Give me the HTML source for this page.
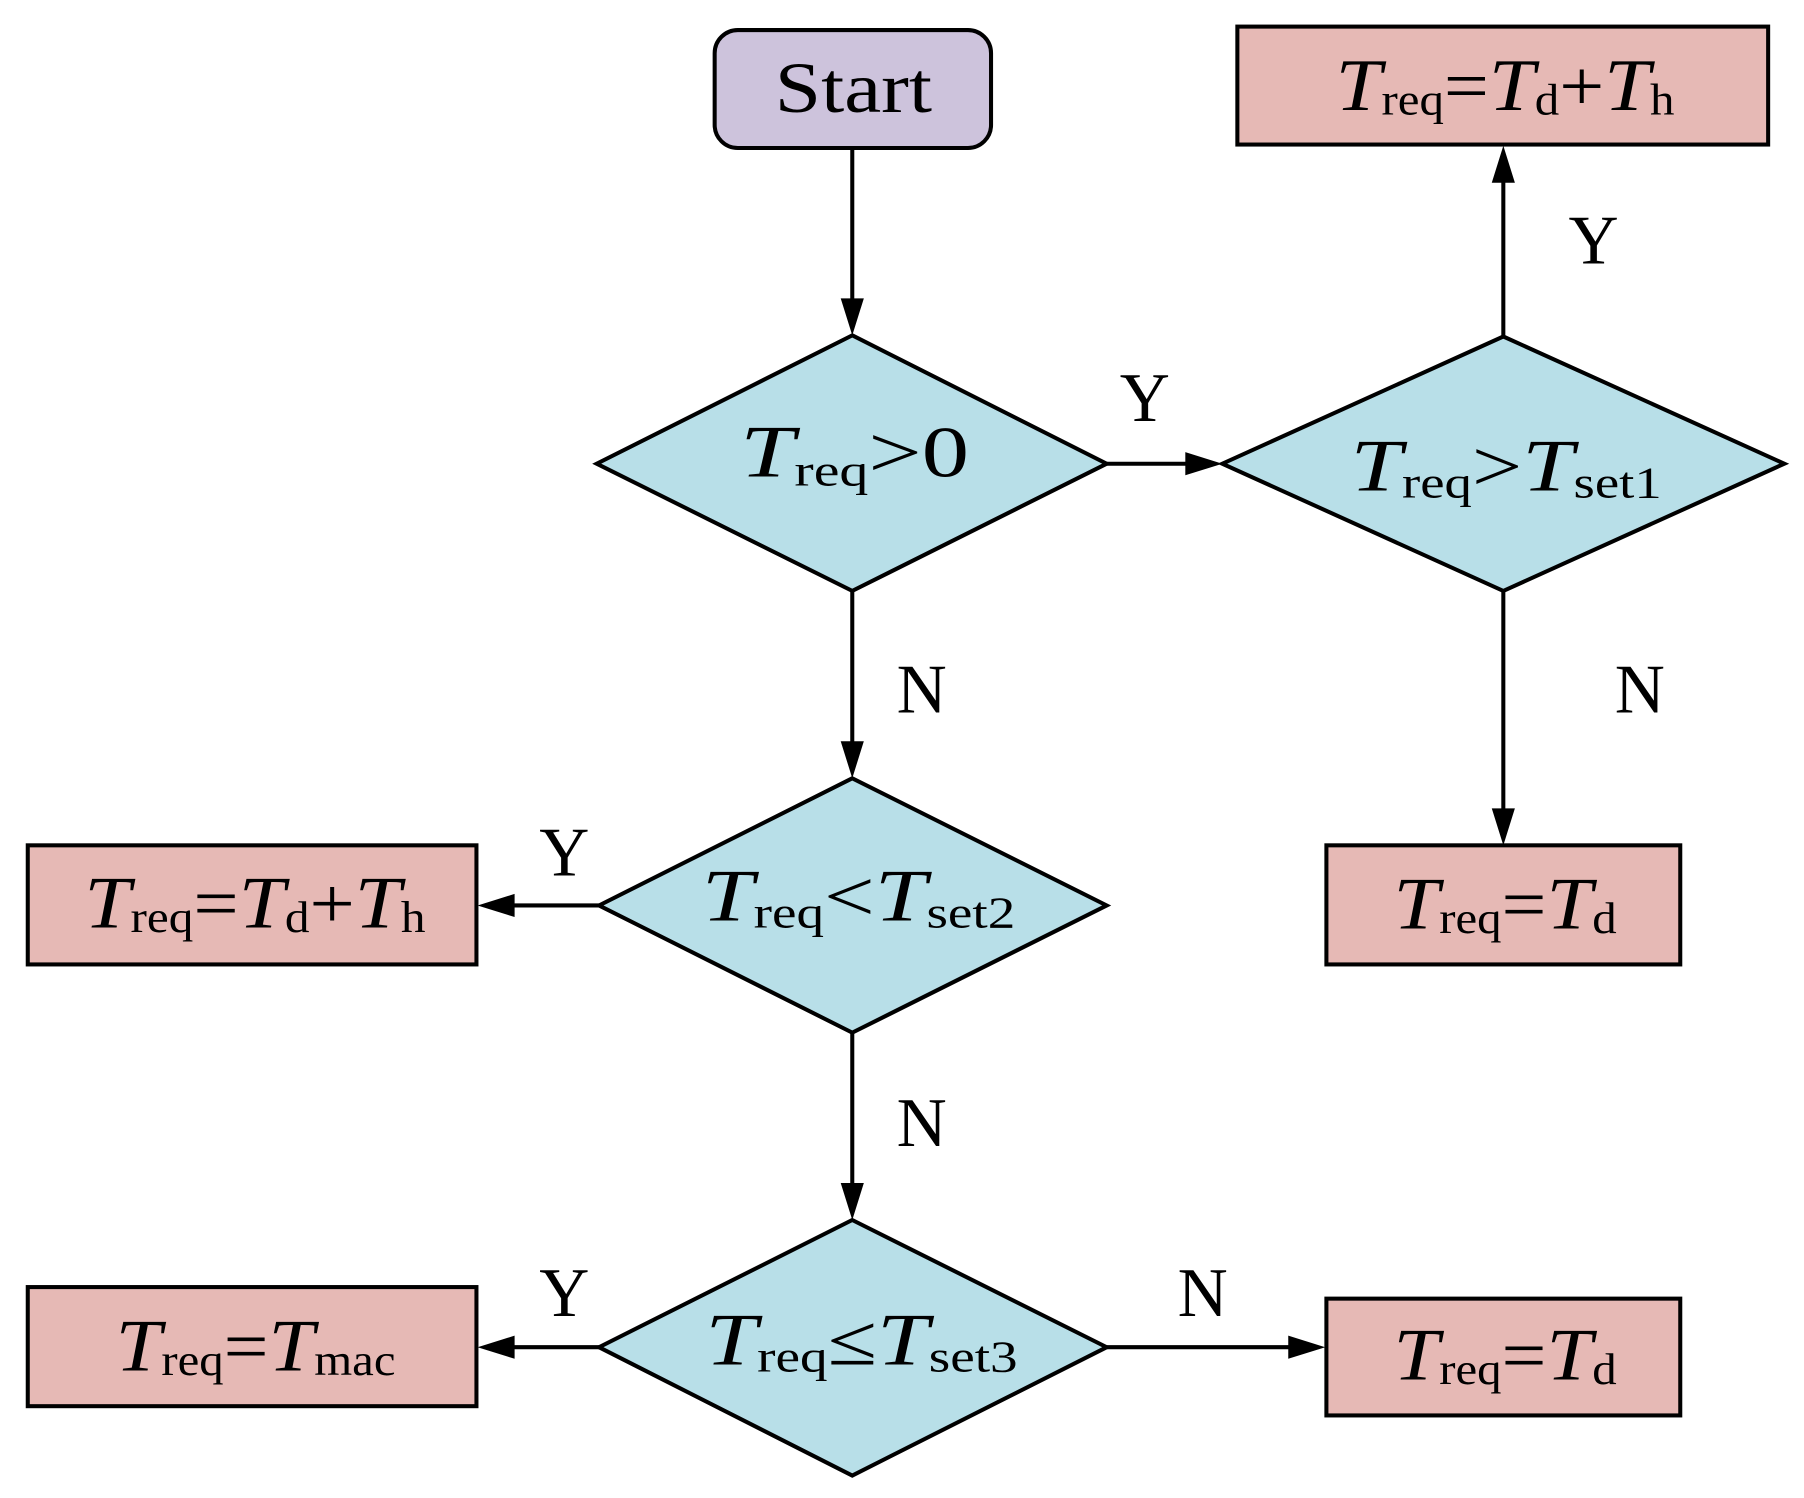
<!DOCTYPE html>
<html><head><meta charset="utf-8"><style>
html,body{margin:0;padding:0;background:#fff;}
svg{display:block;}
text{font-family:"Liberation Serif",serif;fill:#000;}
.T{font-style:italic;font-size:64px;}
.s{font-size:38px;}
.m{font-size:62px;}
.yn{font-size:60px;}
</style></head><body>
<svg width="1804" height="1498" viewBox="0 0 1560 1295.4" xmlns="http://www.w3.org/2000/svg">
<defs>
<marker id="a" markerWidth="10" markerHeight="10" refX="9" refY="5" orient="auto" markerUnits="userSpaceOnUse" viewBox="0 0 10 10">
</marker>
</defs>
<g stroke="#000" stroke-width="3.5" fill="none">
<line x1="737" y1="128" x2="737" y2="262"/>
<line x1="957" y1="401" x2="1030" y2="401"/>
<line x1="1300" y1="291" x2="1300" y2="154"/>
<line x1="1300" y1="511" x2="1300" y2="704"/>
<line x1="737" y1="511" x2="737" y2="646"/>
<line x1="518" y1="783" x2="440" y2="783"/>
<line x1="737" y1="893" x2="737" y2="1028"/>
<line x1="518" y1="1165" x2="440" y2="1165"/>
<line x1="957" y1="1165" x2="1118" y2="1165"/>
</g>
<g fill="#000">
<polygon points="737,290 727,258 747,258"/>
<polygon points="1057,401 1025,391 1025,411"/>
<polygon points="1300,126 1290,158 1310,158"/>
<polygon points="1300,731 1290,699 1310,699"/>
<polygon points="737,673 727,641 747,641"/>
<polygon points="413,783 445,773 445,793"/>
<polygon points="737,1055 727,1023 747,1023"/>
<polygon points="413,1165 445,1155 445,1175"/>
<polygon points="1146,1165 1114,1155 1114,1175"/>
</g>
<g stroke="#000" stroke-width="3.5">
<rect x="618" y="26" width="239" height="102" rx="20" fill="#cdc3dc"/>
<polygon points="737,290 957,401 737,511 516,401" fill="#b8dfe8"/>
<polygon points="1300,291 1543,401 1300,511 1057,401" fill="#b8dfe8"/>
<polygon points="737,673 957,783 737,893 518,783" fill="#b8dfe8"/>
<polygon points="737,1055 957,1165 737,1276 518,1165" fill="#b8dfe8"/>
<rect x="1070" y="23" width="459" height="102" fill="#e6b9b5"/>
<rect x="1147" y="731" width="306" height="103" fill="#e6b9b5"/>
<rect x="24" y="731" width="388" height="103" fill="#e6b9b5"/>
<rect x="24" y="1113" width="388" height="103" fill="#e6b9b5"/>
<rect x="1147" y="1123" width="306" height="101" fill="#e6b9b5"/>
</g>
<text x="670" y="97" class="m" textLength="136" lengthAdjust="spacingAndGlyphs">Start</text>

<text x="640" y="412" textLength="198" lengthAdjust="spacingAndGlyphs"><tspan class="T">T</tspan><tspan class="s" dy="8">req</tspan><tspan class="m" dy="-8">&gt;0</tspan></text>
<text x="1168" y="424" textLength="269" lengthAdjust="spacingAndGlyphs"><tspan class="T">T</tspan><tspan class="s" dy="6">req</tspan><tspan class="m" dy="-6">&gt;</tspan><tspan class="T">T</tspan><tspan class="s" dy="6">set1</tspan></text>
<text x="607" y="796" textLength="271" lengthAdjust="spacingAndGlyphs"><tspan class="T">T</tspan><tspan class="s" dy="6">req</tspan><tspan class="m" dy="-6">&lt;</tspan><tspan class="T">T</tspan><tspan class="s" dy="6">set2</tspan></text>
<text x="610" y="1180" textLength="270" lengthAdjust="spacingAndGlyphs"><tspan class="T">T</tspan><tspan class="s" dy="6">req</tspan><tspan class="m" dy="-6">≤</tspan><tspan class="T">T</tspan><tspan class="s" dy="6">set3</tspan></text>

<text x="1155" y="95" textLength="293" lengthAdjust="spacingAndGlyphs"><tspan class="T">T</tspan><tspan class="s" dy="4">req</tspan><tspan class="m" dy="-4">=</tspan><tspan class="T">T</tspan><tspan class="s" dy="4">d</tspan><tspan class="m" dy="-4">+</tspan><tspan class="T">T</tspan><tspan class="s" dy="4">h</tspan></text>
<text x="73" y="802" textLength="295" lengthAdjust="spacingAndGlyphs"><tspan class="T">T</tspan><tspan class="s" dy="4">req</tspan><tspan class="m" dy="-4">=</tspan><tspan class="T">T</tspan><tspan class="s" dy="4">d</tspan><tspan class="m" dy="-4">+</tspan><tspan class="T">T</tspan><tspan class="s" dy="4">h</tspan></text>
<text x="1205" y="803" textLength="193" lengthAdjust="spacingAndGlyphs"><tspan class="T">T</tspan><tspan class="s" dy="4">req</tspan><tspan class="m" dy="-4">=</tspan><tspan class="T">T</tspan><tspan class="s" dy="4">d</tspan></text>
<text x="100" y="1185" textLength="242" lengthAdjust="spacingAndGlyphs"><tspan class="T">T</tspan><tspan class="s" dy="4">req</tspan><tspan class="m" dy="-4">=</tspan><tspan class="T">T</tspan><tspan class="s" dy="4">mac</tspan></text>
<text x="1205" y="1193" textLength="193" lengthAdjust="spacingAndGlyphs"><tspan class="T">T</tspan><tspan class="s" dy="4">req</tspan><tspan class="m" dy="-4">=</tspan><tspan class="T">T</tspan><tspan class="s" dy="4">d</tspan></text>

<text x="990" y="364" class="yn" text-anchor="middle">Y</text>
<text x="1378" y="228" class="yn" text-anchor="middle">Y</text>
<text x="1418" y="616" class="yn" text-anchor="middle">N</text>
<text x="797" y="616" class="yn" text-anchor="middle">N</text>
<text x="488" y="757" class="yn" text-anchor="middle">Y</text>
<text x="797" y="991" class="yn" text-anchor="middle">N</text>
<text x="488" y="1138" class="yn" text-anchor="middle">Y</text>
<text x="1040" y="1138" class="yn" text-anchor="middle">N</text>
</svg>
</body></html>
